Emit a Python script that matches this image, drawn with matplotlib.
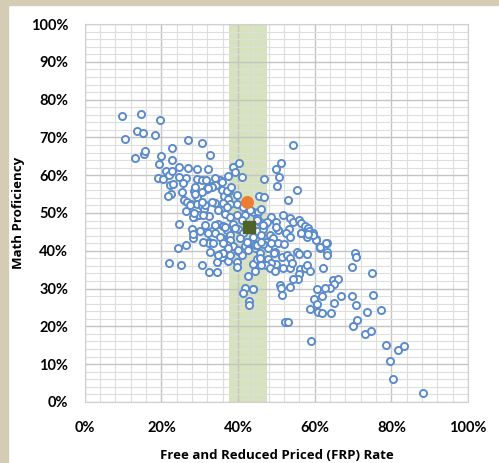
import numpy as np
import matplotlib
matplotlib.use('Agg')
import matplotlib.pyplot as plt
from matplotlib.patches import Rectangle
from matplotlib.ticker import MultipleLocator, FuncFormatter

# School points: FRP rate (%) and math proficiency (%)
pts = [
    (9.7,75.8),(10.4,69.6),(14.7,76.3),(13.5,71.6),(15.1,71.3),(13.0,64.6),(15.4,65.7),(15.8,66.3),
    (19.7,74.6),(18.4,70.7),(20.0,65.1),(19.3,63.0),(22.8,67.2),(22.8,63.9),(26.9,69.2),(30.6,68.6),
    (32.7,65.3),(19.2,59.2),(20.3,59.1),(21.2,61.2),(22.0,60.1),(22.8,61.1),(24.5,62.2),(24.5,59.5),
    (26.9,61.8),(26.5,59.2),(25.6,58.0),(29.2,61.6),(32.2,61.6),(29.3,59.0),(30.6,58.6),(31.7,58.6),
    (22.1,57.4),(23.0,57.8),(22.4,55.1),(21.8,54.5),(25.4,55.6),(25.8,53.5),(26.6,52.9),(27.8,52.5),
    (28.6,55.8),(29.2,54.3),(29.3,52.4),(30.5,51.8),(31.9,56.3),(32.8,57.1),(34.3,57.5),(35.2,58.6),
    (33.9,52.7),(26.3,50.4),(28.5,48.9),(29.9,49.4),(31.1,51.0),(32.3,49.2),(35.8,56.1),(36.2,54.5),
    (37.3,53.7),(37.9,52.5),(37.5,55.7),(37.4,59.9),(38.6,62.1),(40.2,63.3),(39.3,60.9),(40.9,59.5),
    (39.7,54.8),(39.7,52.3),(41.2,51.7),(24.5,47.2),(28.1,49.0),(24.2,40.6),(26.3,41.4),(21.9,36.7),
    (25.2,36.1),
    (46.7,58.9),(45.5,54.5),(46.7,54.1),(27.4,52.1),(31.3,52.1),(36.1,52.7),(37.1,51.7),(28.5,49.9),
    (30.9,49.5),(36.6,49.7),(37.9,49.0),(39.6,49.5),(41.8,49.5),(43.9,50.3),(45.2,50.3),(46.1,51.0),
    (34.8,47.2),(36.1,46.6),(38.7,47.2),(40.0,45.8),(44.8,48.6),(45.7,47.7),(47.0,47.2),(48.7,49.0),
    (50.0,47.7),(27.9,45.8),(30.0,45.1),(33.1,45.2),(33.9,44.6),(37.0,45.5),(37.9,44.2),(41.3,44.6),
    (44.8,45.1),(46.6,45.8),(48.3,44.2),(28.3,43.3),(32.5,42.4),(35.7,43.3),(37.9,42.9),(40.5,43.3),
    (43.1,42.4),(45.2,43.3),(47.4,42.4),(49.2,43.3),(50.5,42.0),(38.7,41.2),(41.8,41.2),(44.4,40.7),
    (47.9,40.7),(33.1,57.0),(31.8,56.5),(30.5,55.5),(37.0,55.9),(38.1,56.8),(28.7,57.0),(28.7,54.9),
    (54.3,68.0),(51.1,63.3),(50.0,61.6),(50.7,59.5),(50.2,57.1),(55.4,56.0),(53.1,53.5),(51.6,49.5),
    (53.5,48.6),(54.4,47.7),(55.9,48.1),(56.4,47.3),(57.4,46.6),(58.3,45.9),(58.6,45.1),(59.6,44.6),
    (60.3,43.0),(58.0,43.6),(56.4,44.8),(53.3,45.8),(52.6,44.6),(50.5,45.5),(50.0,46.4),(53.5,43.7),
    (52.0,41.7),(63.1,42.1),(61.4,40.9),(47.5,47.6),
    (49.6,39.6),(51.4,38.4),(52.7,38.9),(53.5,38.0),(55.3,39.6),(55.9,39.1),(57.9,39.1),(49.8,36.4),
    (51.8,35.4),(53.5,35.4),(54.0,36.7),(56.1,35.2),(57.4,35.5),(58.1,36.2),(58.7,34.7),(55.9,33.8),
    (55.7,32.5),(54.4,32.5),(50.9,31.0),(51.2,30.2),(53.5,30.5),(51.4,28.2),(61.4,40.8),(63.1,39.6),
    (63.1,38.9),(62.2,35.5),(70.5,39.3),(70.7,38.4),(69.8,35.8),(64.8,32.3),(66.1,32.5),(65.1,31.1),
    (64.0,30.1),(62.7,30.2),(60.5,29.9),(62.0,27.9),(59.9,27.2),(60.5,25.8),(58.7,24.6),(60.9,23.9),
    (62.0,23.6),(64.2,23.4),(65.1,26.3),(66.8,28.1),(69.6,28.1),(70.8,25.7),(70.9,21.7),(70.1,20.2),
    (52.2,21.2),(53.1,21.2),(59.0,16.2),(75.0,34.0),(75.3,28.3),(73.5,23.7),(77.3,24.2),(73.1,18.0),
    (74.7,18.8),(78.7,15.1),(81.6,13.7),(83.4,14.8),(79.6,10.7),(80.5,6.1),(88.3,2.4),
    (60.4,42.9),(59.5,44.1),(58.3,44.4),(56.5,44.8),(61.3,41.0),(63.0,42.0),(49.3,39.3),(48.5,42.0),
    (46.4,41.8),(44.4,41.5),(45.7,39.3),(44.4,34.7),(43.9,36.4),(45.0,37.7),(46.1,37.9),(47.9,37.9),
    (48.7,36.7),(47.3,36.2),(48.3,35.5),(49.6,34.7),(43.8,30.0),
    (30.6,36.1),(32.5,34.3),(34.5,34.3),(34.5,37.1),(35.4,39.2),(35.9,38.4),(37.3,37.4),(39.6,37.0),
    (39.6,35.6),(32.4,42.0),(28.3,44.4),(37.2,41.6),(39.9,40.0),(40.9,38.9),(42.6,40.2),(42.6,33.2),
    (41.8,30.2),(41.3,28.7),(42.9,26.8),(42.9,25.7),(43.9,29.9),(45.7,38.0),(46.0,36.2),
    (39.2,46.0),(42.2,42.4),(43.9,43.6),(46.1,44.2),(44.8,41.5),(46.1,42.4),(40.0,40.2),(37.4,40.6),
    (36.1,39.3),(34.8,38.9),(40.9,48.1),(43.1,50.8),(44.8,48.1),(46.6,46.8),
    (33.9,59.2),(35.7,58.3),(32.2,56.5),(30.5,53.0),(33.1,53.0),(34.8,50.8),(33.9,46.8),(31.3,46.8),
    (36.6,46.4),(32.2,44.6),(35.2,43.7),(30.9,42.4),(33.5,42.0),(36.1,42.0),(32.6,39.8),(37.9,38.9),
]
frp = np.array([p[0] for p in pts])
math = np.array([p[1] for p in pts])

# Highlighted school and average, plus the FRP band
school_x, school_y = 42.2, 52.8
avg_x, avg_y = 42.8, 46.4
band = (37.5, 47.5)

fig = plt.figure(figsize=(4.99, 4.63), dpi=100)
ax = fig.add_axes([0.170, 0.132, 0.768, 0.816])

# beige frame strips on left and top
fig.patches.append(Rectangle((0, 0), 8/499, 1, transform=fig.transFigure, color='#D5CCB6', zorder=0))
fig.patches.append(Rectangle((0, 1 - 5/463), 1, 5/463, transform=fig.transFigure, color='#D5CCB6', zorder=0))

ax.axvspan(band[0], band[1], color='#D7E3BE', zorder=0.2, lw=0)

ax.scatter(frp, math, s=26, facecolors='white', edgecolors='#5B8BCB', linewidths=1.4, zorder=3)
ax.scatter([school_x], [school_y], s=70, color='#ED7D31', zorder=4)
ax.scatter([avg_x], [avg_y], s=70, marker='s', color='#4F6228', zorder=4)

ax.set_xlim(0, 100)
ax.set_ylim(0, 100)
ax.xaxis.set_major_locator(MultipleLocator(20))
ax.xaxis.set_minor_locator(MultipleLocator(4))
ax.yaxis.set_major_locator(MultipleLocator(10))
ax.yaxis.set_minor_locator(MultipleLocator(2))
pct = FuncFormatter(lambda v, p: '{:.0f}%'.format(v))
ax.xaxis.set_major_formatter(pct)
ax.yaxis.set_major_formatter(pct)

ax.set_axisbelow(True)
ax.grid(which='minor', color='#DEDEDE', lw=0.8, zorder=0.5)
ax.grid(which='major', color='#C4C4C4', lw=1.0, zorder=0.5)
ax.tick_params(which='both', length=0)
ax.tick_params(axis='x', pad=14)
ax.tick_params(axis='y', pad=12)
for s in ax.spines.values():
    s.set_color('#D0D0D0')
    s.set_linewidth(0.8)

for lab in ax.get_xticklabels() + ax.get_yticklabels():
    lab.set_fontfamily('Lato')
    lab.set_fontweight('bold')
    lab.set_fontsize(10.5)

ax.set_xlabel('Free and Reduced Priced (FRP) Rate', fontfamily='Open Sans', fontweight='bold',
              fontsize=9.5, labelpad=10)
ax.set_ylabel('Math Proficiency', fontfamily='Open Sans', fontweight='bold',
              fontsize=9.5, labelpad=4)

fig.savefig('out.png', dpi=100)
